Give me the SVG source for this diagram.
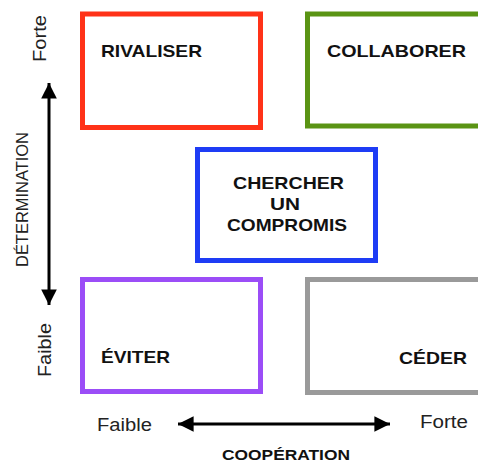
<svg xmlns="http://www.w3.org/2000/svg" width="478" height="463" viewBox="0 0 478 463">
<defs>
<style>
.box{fill:#fff;stroke-width:5}
.lbl{font-family:"Liberation Sans",Arial,sans-serif;font-weight:bold;font-size:17px;fill:#111}
.ax{font-family:"Liberation Sans",Arial,sans-serif;font-size:17.5px;fill:#222}
.axb{font-family:"Liberation Sans",Arial,sans-serif;font-weight:bold;font-size:15px;fill:#111}
.conn{stroke:#000;stroke-width:3;fill:none}
</style>
<marker id="ah" viewBox="0 0 10 10" refX="10" refY="5" markerWidth="5.8" markerHeight="5.2" markerUnits="strokeWidth" orient="auto-start-reverse">
<path d="M0,0 L10,5 L0,10 z" fill="#000"/>
</marker>
</defs>
<rect width="478" height="463" fill="#fff"/>
<g id="connectors">
<line class="conn" x1="49" y1="83" x2="49" y2="305" marker-start="url(#ah)" marker-end="url(#ah)"/>
<line class="conn" x1="178" y1="424" x2="390" y2="424" marker-start="url(#ah)" marker-end="url(#ah)"/>
</g>
<g id="rivaliser">
<rect class="box" x="82.5" y="14" width="178" height="113.5" stroke="#FF3218"/>
<text class="lbl" x="101" y="57" textLength="101" lengthAdjust="spacingAndGlyphs">RIVALISER</text>
</g>
<g id="collaborer">
<rect class="box" x="307.5" y="14" width="200" height="112" stroke="#5A9414"/>
<text class="lbl" x="327" y="57" textLength="139" lengthAdjust="spacingAndGlyphs">COLLABORER</text>
</g>
<g id="compromis">
<rect class="box" x="197.5" y="149.5" width="178" height="111" stroke="#1E3CF5"/>
<text class="lbl" x="233" y="189" textLength="111" lengthAdjust="spacingAndGlyphs">CHERCHER</text>
<text class="lbl" x="270" y="210" textLength="30" lengthAdjust="spacingAndGlyphs">UN</text>
<text class="lbl" x="227" y="231" textLength="120" lengthAdjust="spacingAndGlyphs">COMPROMIS</text>
</g>
<g id="eviter">
<rect class="box" x="82.5" y="279.5" width="178" height="112" stroke="#9B4DF7"/>
<text class="lbl" x="101" y="363" textLength="69" lengthAdjust="spacingAndGlyphs">ÉVITER</text>
</g>
<g id="ceder">
<rect class="box" x="307.5" y="279.5" width="200" height="113" stroke="#9A9A9A"/>
<text class="lbl" x="399" y="364" textLength="68" lengthAdjust="spacingAndGlyphs">CÉDER</text>
</g>
<g id="axis-labels">
<text class="ax" transform="translate(46,62) rotate(-90)" textLength="47" lengthAdjust="spacingAndGlyphs">Forte</text>
<text class="ax" transform="translate(28,267) rotate(-90)" style="font-size:16.5px" textLength="135" lengthAdjust="spacingAndGlyphs">DÉTERMINATION</text>
<text class="ax" transform="translate(51,377) rotate(-90)" textLength="54" lengthAdjust="spacingAndGlyphs">Faible</text>
<text class="ax" x="97" y="431" textLength="55" lengthAdjust="spacingAndGlyphs">Faible</text>
<text class="ax" x="420" y="428" textLength="48" lengthAdjust="spacingAndGlyphs">Forte</text>
<text class="axb" x="222" y="460" textLength="128" lengthAdjust="spacingAndGlyphs">COOPÉRATION</text>
</g>
</svg>
